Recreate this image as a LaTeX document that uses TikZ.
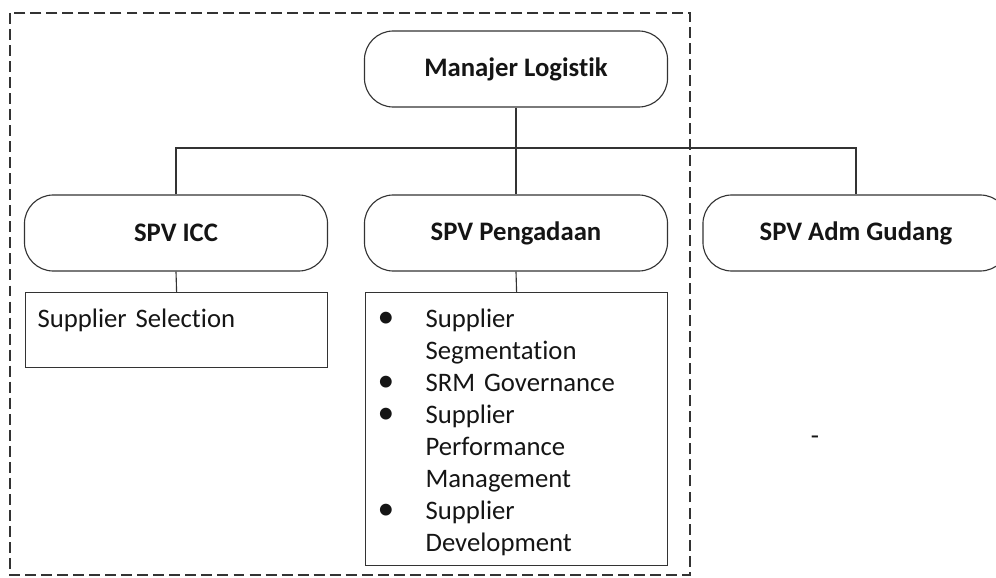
\documentclass[tikz,border=0pt]{standalone}
\usepackage{fontspec}
\setmainfont{Carlito}[Ligatures=NoCommon]
\usepackage{tikz}
\definecolor{ink}{HTML}{333333}
\definecolor{teks}{HTML}{151515}
\newcommand{\ukuran}{\fontsize{19}{22.76}\selectfont}
\newcommand{\butir}{\makebox[1.2cm][l]{\scalebox{1.25}{\textbullet}}}
\newcommand{\lanjut}{\hspace*{1.2cm}}
\tikzset{
  jabatan/.style={draw=ink,line width=0.8pt,rounded corners=0.72cm,
                  minimum width=7.575cm,minimum height=1.9cm,inner sep=0pt,
                  text=teks,font=\ukuran\bfseries},
  tugas/.style={draw=ink,line width=0.8pt,anchor=north west,
                minimum width=7.55cm,text width=6.95cm,inner xsep=0.3cm,
                inner ysep=0pt,align=left,text height=0.875cm,
                text=teks,font=\ukuran},
  garis/.style={draw=ink,line width=0.8pt},
  bingkai/.style={draw=ink,line width=0.9pt,dash pattern=on 7.8pt off 3.6pt}
}

\begin{document}
\begin{tikzpicture}[x=0.025cm,y=-0.025cm,line cap=butt]
  \useasboundingbox (0,0) rectangle (996,578);
  % kotak putus-putus
  \draw[bingkai] (10,13) rectangle (690,575);

  % jabatan
  \node[jabatan] (manajer) at (516,69) {Manajer Logistik};
  \node[jabatan] (icc) at (176,233) {SPV ICC};
  \node[jabatan] (pengadaan) at (516,233) {SPV Pengadaan};
  \node[jabatan,minimum width=7.65cm] (gudang) at (856,233) {SPV Adm Gudang};

  % tugas
  \node[tugas,text depth=1cm] (tugasICC) at (25,292) {Supplier Selection};
  \node[tugas,text depth=5.95cm] (tugasPengadaan) at (365,292)
    {\butir Supplier\\
     \lanjut Segmentation\\
     \butir SRM Governance\\
     \butir Supplier\\
     \lanjut Performance\\
     \lanjut Management\\
     \butir Supplier\\
     \lanjut Development};
  \node[text=teks,font=\ukuran] (tanda) at (815,440) {-};

  % garis hubung
  \coordinate (cabang) at (516,148);
  \draw[garis] (manajer.south) -- (pengadaan.north);
  \draw[garis] (icc.north) |- (cabang) -| (gudang.north);
  \draw[garis] (icc.south) -- (tugasICC.north);
  \draw[garis] (pengadaan.south) -- (tugasPengadaan.north);
\end{tikzpicture}
\end{document}
